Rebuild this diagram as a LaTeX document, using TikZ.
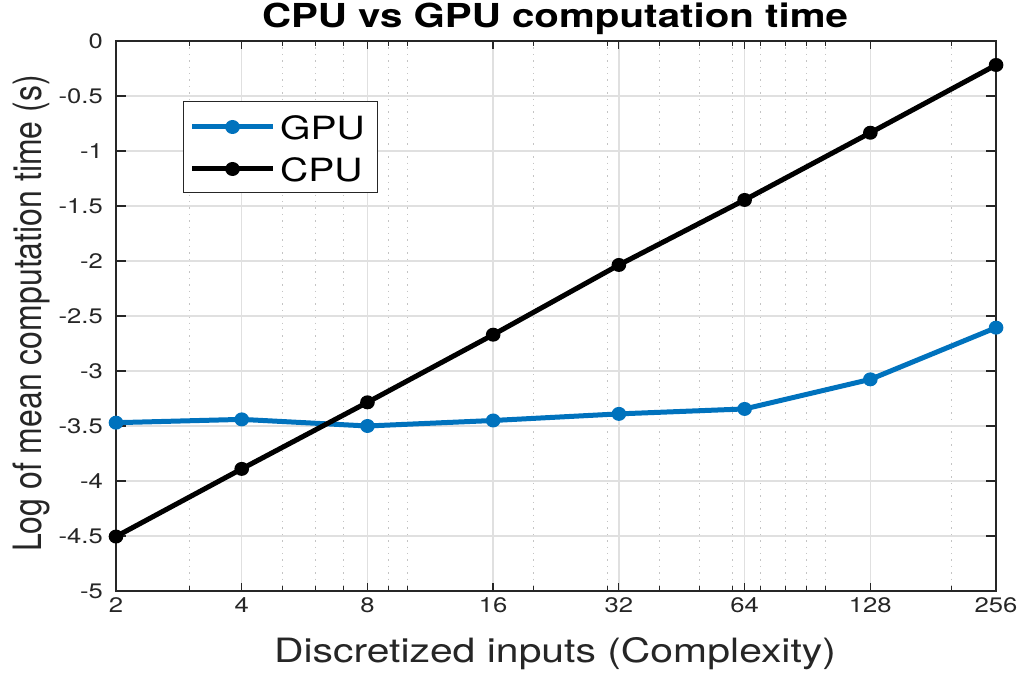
\documentclass[tikz,border=0pt]{standalone}
\usepackage{fontspec}
\setmainfont{TeX Gyre Heros}
\usetikzlibrary{calc}
\definecolor{gpublue}{HTML}{0072BD}
\definecolor{axisgray}{HTML}{262626}
\definecolor{gridgray}{HTML}{E0E0E0}
\definecolor{minorgray}{HTML}{C4C4C4}
\tikzset{
  ticklbl/.style={font=\fontsize{21}{21}\selectfont, text=axisgray},
  axlbl/.style={font=\fontsize{32}{32}\selectfont, text=axisgray},
  majorgrid/.style={draw=gridgray, line width=1.4pt},
  minorgrid/.style={draw=minorgray, line width=1pt, dash pattern=on 1.4pt off 5pt},
  axisline/.style={draw=axisgray, line width=1.3pt},
  gpuline/.style={draw=gpublue, line width=5pt, line join=round},
  cpuline/.style={draw=black, line width=5pt, line join=round},
  dotmark/.style={x radius=6pt, y radius=7pt}
}
\begin{document}
\begin{tikzpicture}[x=0.8197pt, y=-1pt, xscale=1.22,
    every node/.append style={transform shape, inner sep=0pt}]
  \useasboundingbox (0,0) rectangle (1022,675);
  % plot area, one unit = one octave / one log step
  \begin{scope}[shift={(116,41)}, x=103.04pt, y=110pt]
    \foreach \m in {3,5,6,7,9,10,20,30,40,50,60,70,80,90,100,200} {
      \pgfmathsetmacro\k{ln(\m)/ln(2)-1}
      \draw[minorgrid] (\k,0) -- (\k,-5);
      \draw[axisline, line width=1pt] (\k,-5) -- ++(0,4.5pt);
      \draw[axisline, line width=1pt] (\k,0) -- ++(0,-4.5pt);
    }
    \foreach \k in {1,...,6}
      \draw[majorgrid] (\k,0) -- (\k,-5);
    \foreach \v in {-0.5,-1,-1.5,-2,-2.5,-3,-3.5,-4,-4.5}
      \draw[majorgrid] (0,\v) -- (7,\v);
    \draw[axisline] (0,0) rectangle (7,-5);
    % ticks and tick labels
    \foreach \k/\n in {0/2,1/4,2/8,3/16,4/32,5/64,6/128,7/256} {
      \draw[axisline] (\k,-5) -- ++(0,8pt);
      \draw[axisline] (\k,0) -- ++(0,-8pt);
      \node[ticklbl, anchor=base, yshift=-22pt] (xt\n) at (\k,-5) {\n};
    }
    \foreach \v [count=\i] in {0,-0.5,-1,-1.5,-2,-2.5,-3,-3.5,-4,-4.5,-5} {
      \draw[axisline] (0,\v) -- ++(8.2pt,0);
      \draw[axisline] (7,\v) -- ++(-8.2pt,0);
      \node[ticklbl, anchor=east, xshift=-10.6pt] (yt\i) at (0,\v) {\v};
    }
    % data
    \foreach \k/\g/\c in {0/-3.47/-4.505, 1/-3.44/-3.89, 2/-3.5/-3.285,
        3/-3.45/-2.67, 4/-3.39/-2.036, 5/-3.345/-1.445, 6/-3.076/-0.834,
        7/-2.606/-0.218} {
      \coordinate (g\k) at (\k,\g);
      \coordinate (c\k) at (\k,\c);
    }
    \draw[gpuline] (g0) \foreach \k in {1,...,7} {-- (g\k)};
    \foreach \k in {0,...,7}
      \fill[gpublue] (g\k) circle[dotmark];
    \draw[cpuline] (c0) \foreach \k in {1,...,7} {-- (c\k)};
    \foreach \k in {0,...,7}
      \fill[black] (c\k) circle[dotmark];
  \end{scope}
  % legend
  \draw[axisline, line width=1pt, fill=white] (183,102) rectangle (377,193);
  \coordinate (lg1) at (192,127);
  \coordinate (lg2) at (273,127);
  \coordinate (lc1) at (192,169);
  \coordinate (lc2) at (273,169);
  \draw[gpuline] (lg1) -- (lg2);
  \fill[gpublue] ($(lg1)!0.5!(lg2)$) circle[dotmark];
  \draw[cpuline] (lc1) -- (lc2);
  \fill[black] ($(lc1)!0.5!(lc2)$) circle[dotmark];
  \node[axlbl, text=black, anchor=base west] (lgpu) at (280,140) {GPU};
  \node[axlbl, text=black, anchor=base west] (lcpu) at (280,182) {CPU};
  % labels
  \node[font=\fontsize{33}{33}\selectfont\bfseries, anchor=base] (title) at (555,27) {CPU vs GPU computation time};
  \node[axlbl, font=\fontsize{33.5}{33.5}\selectfont, anchor=base] (xlabel) at (555,663) {Discretized inputs (Complexity)};
  \node[axlbl, rotate=90, anchor=base] (ylabel) at (41,313.5) {Log of mean computation time (s)};
\end{tikzpicture}
\end{document}
